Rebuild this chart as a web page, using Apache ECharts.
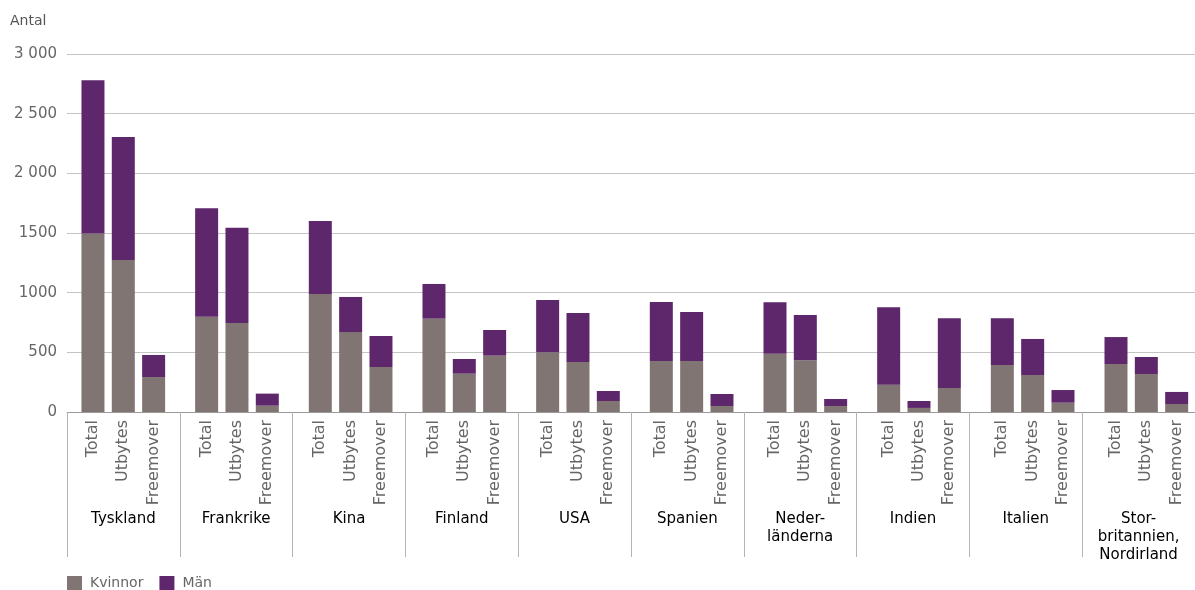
<!DOCTYPE html>
<html>
<head>
<meta charset="utf-8">
<script src="https://cdn.jsdelivr.net/npm/echarts@6/dist/echarts.min.js"></script>
<style>html,body{margin:0;padding:0;background:#fff}#c{width:1195px;height:590px}</style>
</head>
<body>
<div id="c"></div>
<script>
const countries = ['Tyskland','Frankrike','Kina','Finland','USA','Spanien','Neder-\nländerna','Indien','Italien','Stor-\nbritannien,\nNordirland'];
const barTypes = ['Total','Utbytes','Freemover'];
const yTickLabels = ['0','500','1000','1500','2 000','2 500','3 000'];
// [Total, Utbytes, Freemover] per country
const kvinnor = [
  [1495,1274,293],
  [799,746,53],
  [989,670,377],
  [782,321,472],
  [500,419,92],
  [427,427,50],
  [489,433,50],
  [229,34,201],
  [394,310,78],
  [402,318,67]
];
const man = [
  [1285,1031,185],
  [908,799,101],
  [612,294,260],
  [291,123,215],
  [439,411,84],
  [495,411,101],
  [430,380,59],
  [648,58,584],
  [391,302,106],
  [226,143,101]
];

const FONT = 'DejaVu Sans';
const C_K = '#807572', C_M = '#5e276c';
const LEFT = 67, GW = 113.67, TOP = 54, BOTTOM = 178;

const grids = [{left: LEFT, width: GW * countries.length, top: TOP, bottom: BOTTOM}];
const xAxes = [{
  type: 'category', gridIndex: 0, data: countries, boundaryGap: true,
  axisLine: {show: true, lineStyle: {color: '#9a9a9a', width: 1}},
  axisTick: {show: true, interval: 0, length: 145, lineStyle: {color: '#b5b5b5'}},
  axisLabel: {interval: 0, margin: 98, color: '#000', fontFamily: FONT, fontSize: 15, lineHeight: 18}
}];
const yAxes = [{
  type: 'value', gridIndex: 0, min: 0, max: 3000, interval: 500,
  axisLine: {show: false}, axisTick: {show: false},
  splitLine: {lineStyle: {color: '#c4c4c4', width: 1}},
  axisLabel: {margin: 10, color: '#666', fontFamily: FONT, fontSize: 15,
    formatter: v => yTickLabels[Math.round(v / 500)]}
}];
const series = [];
countries.forEach((c, g) => {
  const gi = g + 1;
  grids.push({left: LEFT + g * GW + 10.8, width: 91, top: TOP, bottom: BOTTOM});
  xAxes.push({
    type: 'category', gridIndex: gi, data: barTypes, boundaryGap: true,
    axisLine: {show: false}, axisTick: {show: false},
    axisLabel: {interval: 0, rotate: 90, margin: 8, color: '#666', fontFamily: FONT, fontSize: 16}
  });
  yAxes.push({type: 'value', gridIndex: gi, min: 0, max: 3000, show: false, splitLine: {show: false}});
  series.push({
    name: 'Kvinnor', type: 'bar', stack: 's' + g, xAxisIndex: gi, yAxisIndex: gi,
    barWidth: 23, itemStyle: {color: C_K}, data: kvinnor[g], animation: false
  });
  series.push({
    name: 'Män', type: 'bar', stack: 's' + g, xAxisIndex: gi, yAxisIndex: gi,
    barWidth: 23, itemStyle: {color: C_M}, data: man[g], animation: false
  });
});

const chart = echarts.init(document.getElementById('c'), null, {renderer: 'canvas'});
chart.setOption({
  animation: false,
  title: {text: 'Antal', left: 5, top: 9, textStyle: {fontFamily: FONT, fontSize: 14, fontWeight: 'normal', color: '#555'}},
  legend: {
    data: ['Kvinnor', 'Män'], left: 62, top: 571, icon: 'rect', itemWidth: 15, itemHeight: 14, itemGap: 16,
    textStyle: {fontFamily: FONT, fontSize: 14, color: '#666', padding: [0, 0, 0, 3]}
  },
  grid: grids, xAxis: xAxes, yAxis: yAxes, series: series
});
</script>
</body>
</html>
